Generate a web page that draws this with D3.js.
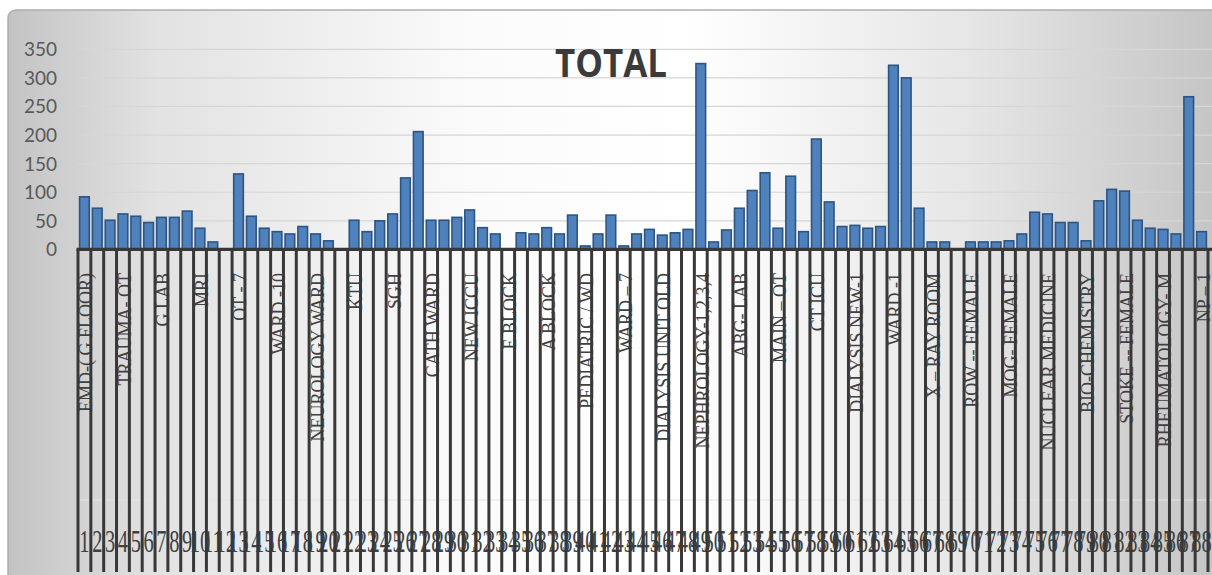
<!DOCTYPE html>
<html>
<head>
<meta charset="utf-8">
<script src="https://cdn.jsdelivr.net/npm/d3@7"></script>
<style>
  html, body { margin: 0; padding: 0; background: #ffffff; }
  svg { display: block; }
</style>
</head>
<body>
<script>
// Totals per location, in category order 1..88
const values = [
  92, 72, 51, 62, 58, 47, 56, 56, 67, 37,
  13, 0, 132, 58, 37, 31, 27, 40, 27, 15,
  0, 51, 31, 50, 62, 125, 206, 51, 51, 56,
  69, 38, 27, 0, 29, 27, 38, 27, 60, 6,
  27, 60, 6, 27, 35, 25, 29, 35, 325, 13,
  34, 72, 103, 134, 37, 128, 31, 193, 83, 40,
  42, 37, 40, 322, 300, 72, 13, 13, 0, 13,
  13, 13, 15, 27, 65, 62, 47, 47, 15, 85,
  105, 102, 51, 37, 35, 27, 267, 31
];

// Location names printed on the axis (every third category, starting with the first)
const wardNames = [
  "EMD-( G FLOOR)", "TRAUMA- OT", "G LAB", "MRI", "OT - 7",
  "WARD -10", "NEUROLOGY WARD", "KTU", "SGH", "CATH WARD",
  "NEW ICCU", "E BLOCK", "A BLOCK", "PEDIATRIC / WD", "WARD \u2013 7",
  "DIALYSIS UNIT OLD", "NEPHROLOGY-1,2,3,4", "ABG- LAB", "MAIN \u2013 OT", "CT ICU",
  "DIALYSIS NEW-1", "WARD -1", "X \u2013 RAY ROOM", "ROW -- FEMALE", "MOG- FEMALE",
  "NUCLEAR MEDICINE", "BIO-CHEMISTRY", "STOKE -- FEMALE", "RHEUMATOLOGY- M", "NP \u2013 1"
];
const nameEvery = 3;

// Y axis ticks
const yTicks = [0, 50, 100, 150, 200, 250, 300, 350];

const titleText = "TOTAL";

// Category numbers shown on the outer axis row
const categories = values.map((v, i) => String(i + 1));

const W = 1212, H = 575;
const svg = d3.select("body").append("svg")
  .attr("width", W).attr("height", H);

const defs = svg.append("defs");
const bg = defs.append("linearGradient").attr("id", "bgGrad")
  .attr("x1", "0").attr("x2", "1").attr("y1", "0").attr("y2", "0");
bg.append("stop").attr("offset", "0").attr("stop-color", "#c3c3c3");
bg.append("stop").attr("offset", "0.12").attr("stop-color", "#e2e2e2");
bg.append("stop").attr("offset", "0.38").attr("stop-color", "#fbfbfb");
bg.append("stop").attr("offset", "0.55").attr("stop-color", "#ffffff");
bg.append("stop").attr("offset", "0.78").attr("stop-color", "#e6e6e6");
bg.append("stop").attr("offset", "1").attr("stop-color", "#c2c2c2");

// chart frame
svg.append("rect")
  .attr("x", 8).attr("y", 10).attr("width", W + 20).attr("height", H)
  .attr("rx", 8)
  .attr("fill", "url(#bgGrad)")
  .attr("stroke", "#aeaeae").attr("stroke-width", 1.5);

const plot = { left: 78, right: 1208, top: 49.3, bottom: 249.4 };

const x = d3.scaleBand()
  .domain(categories)
  .range([plot.left, plot.right])
  .paddingInner(0.25)
  .paddingOuter(0.125);

const y = d3.scaleLinear()
  .domain([0, 350])
  .range([plot.bottom, plot.top]);

const step = x.step();

// horizontal gridlines
svg.append("g")
  .selectAll("line")
  .data(yTicks.filter(t => t > 0))
  .join("line")
  .attr("x1", plot.left).attr("x2", W)
  .attr("y1", d => y(d)).attr("y2", d => y(d))
  .attr("stroke", "#d6d6d6").attr("stroke-width", 1.2);

// y axis labels
const yAxis = d3.axisLeft(y).tickValues(yTicks).tickSize(0).tickPadding(0);
const yg = svg.append("g")
  .attr("transform", `translate(57,0)`)
  .call(yAxis);
yg.select(".domain").remove();
yg.selectAll("text")
  .attr("font-family", "Lato, 'Open Sans', sans-serif")
  .attr("font-size", 19)
  .attr("fill", "#595959")
  .attr("dy", "0.34em");

// title
svg.append("text")
  .attr("x", 611).attr("y", 77)
  .attr("text-anchor", "middle")
  .attr("font-family", "'Open Sans', Lato, sans-serif")
  .attr("font-weight", "bold")
  .attr("font-size", 40)
  .attr("textLength", 112)
  .attr("lengthAdjust", "spacingAndGlyphs")
  .attr("fill", "#3b3b3b")
  .text(titleText);

// bars
svg.append("g")
  .selectAll("rect")
  .data(values.map((v, i) => ({ c: categories[i], v })))
  .join("rect")
  .filter(d => d.v > 0)
  .attr("x", d => x(d.c))
  .attr("width", x.bandwidth())
  .attr("y", d => y(d.v))
  .attr("height", d => y(0) - y(d.v))
  .attr("fill", "#4f81bd")
  .attr("stroke", "#2d5582")
  .attr("stroke-width", 1.6);

// faint separator between the two label rows
svg.append("line")
  .attr("x1", plot.left).attr("x2", W)
  .attr("y1", 500).attr("y2", 500)
  .attr("stroke", "#e4e4e4").attr("stroke-width", 1.2);

// rotated location names
const nameG = svg.append("g");
wardNames.forEach((name, k) => {
  const cat = categories[k * nameEvery];
  if (cat === undefined) return;
  const cx = x(cat) + x.bandwidth() / 2 + 1.5;
  nameG.append("text")
    .attr("transform", `translate(${cx},273) rotate(-90)`)
    .attr("text-anchor", "end")
    .attr("dy", "0.36em")
    .attr("font-family", "'Liberation Serif', 'DejaVu Serif', serif")
    .attr("font-size", 18)
    .attr("fill", "#404040")
    .text(name);
});

// category numbers (outer row)
const numG = svg.append("g");
categories.forEach(c => {
  const cx = x(c) + x.bandwidth() / 2;
  numG.append("text")
    .attr("transform", `translate(${cx},552) scale(0.66,1)`)
    .attr("text-anchor", "middle")
    .attr("font-family", "'Liberation Serif', 'DejaVu Serif', serif")
    .attr("font-size", 31)
    .attr("fill", "#404040")
    .text(c);
});

// category divider lines
const bounds = categories.map(c => x(c) - x.paddingInner() * step / 2);
bounds.push(bounds[bounds.length - 1] + step);
svg.append("g")
  .selectAll("line")
  .data(bounds)
  .join("line")
  .attr("x1", d => d).attr("x2", d => d)
  .attr("y1", plot.bottom).attr("y2", 572)
  .attr("stroke", "#383838").attr("stroke-width", 3);

// category axis line
svg.append("line")
  .attr("x1", plot.left - 1.5).attr("x2", W)
  .attr("y1", plot.bottom).attr("y2", plot.bottom)
  .attr("stroke", "#383838").attr("stroke-width", 3.2);
</script>
</body>
</html>
